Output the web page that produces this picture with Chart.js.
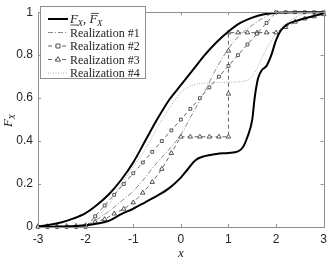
<!DOCTYPE html>
<html><head><meta charset="utf-8">
<script src="https://cdn.jsdelivr.net/npm/chart.js@4/dist/chart.umd.min.js"></script>
<style>html,body{margin:0;padding:0;background:#fff;overflow:hidden}#wrap{width:332px;height:261px;position:relative}</style>
</head><body><div id="wrap"><canvas id="c" width="332" height="261"></canvas></div>
<script>
// ---- data ----
const xTicks = [-3, -2, -1, 0, 1, 2, 3];
const yTicks = [0, 0.2, 0.4, 0.6, 0.8, 1];
const legendLabels = ['F_X, F̄_X', 'Realization #1', 'Realization #2', 'Realization #3', 'Realization #4'];

const upperX = [-3, -2.75, -2.5, -2.25, -2, -1.75, -1.5, -1.25, -1, -0.75, -0.5, -0.25, 0, 0.25, 0.5, 0.75, 1, 1.25, 1.5, 1.75, 2, 2.5, 3];
const upperF = [0.002, 0.01, 0.022, 0.04, 0.065, 0.105, 0.155, 0.22, 0.30, 0.40, 0.50, 0.59, 0.66, 0.73, 0.80, 0.86, 0.91, 0.95, 0.975, 0.99, 0.997, 1, 1];

const lowerX = [-3, -2.5, -2, -1.75, -1.5, -1.25, -1, -0.75, -0.5, -0.25, 0, 0.15, 0.3, 0.5, 0.75, 1, 1.2, 1.3, 1.4, 1.5, 1.55, 1.62, 1.7, 1.8, 1.9, 2, 2.1, 2.25, 2.5, 2.75, 3];
const lowerF = [0, 0.002, 0.008, 0.016, 0.03, 0.06, 0.085, 0.115, 0.145, 0.18, 0.23, 0.27, 0.31, 0.33, 0.34, 0.345, 0.352, 0.37, 0.42, 0.5, 0.6, 0.69, 0.73, 0.75, 0.80, 0.87, 0.915, 0.945, 0.965, 0.98, 0.995];

const r1X = [-3, -2, -1.8, -1.5, -1.25, -1, -0.75, -0.5, -0.25, 0, 0.25, 0.5, 0.75, 1, 1.25, 1.5, 1.75, 2, 3];
const r1F = [0, 0.005, 0.03, 0.075, 0.12, 0.167, 0.23, 0.30, 0.36, 0.43, 0.53, 0.63, 0.74, 0.83, 0.895, 0.94, 0.975, 1, 1];

const r2X = [-3, -2.8, -2.6, -2.4, -2.2, -2, -1.8, -1.6, -1.4, -1.2, -1, -0.8, -0.6, -0.4, -0.2, 0, 0.2, 0.4, 0.6, 0.8, 1, 1.2, 1.4, 1.6, 1.8, 2, 2.2, 2.4, 2.6, 2.8, 3];
const r2F = [0, 0, 0, 0, 0, 0, 0.05, 0.10, 0.15, 0.20, 0.25, 0.30, 0.35, 0.40, 0.45, 0.50, 0.55, 0.60, 0.65, 0.70, 0.75, 0.80, 0.85, 0.90, 0.95, 1, 1, 1, 1, 1, 1];

const r3X = [-3, -2.8, -2.6, -2.4, -2.2, -2, -1.8, -1.6, -1.4, -1.2, -1, -0.8, -0.6, -0.4, -0.2, 0, 0.2, 0.4, 0.6, 0.8, 1, 1, 1, 1, 1.2, 1.4, 1.6, 1.8, 2, 2.2, 2.4, 2.6, 2.8, 3];
const r3F = [0.003, 0.003, 0.003, 0.004, 0.005, 0.008, 0.024, 0.036, 0.062, 0.084, 0.114, 0.159, 0.209, 0.27, 0.344, 0.42, 0.42, 0.42, 0.42, 0.42, 0.42, 0.62, 0.82, 0.905, 0.905, 0.905, 0.905, 0.905, 0.905, 0.93, 0.955, 0.97, 0.98, 0.99];

const r4X = [-3, -2, -1.8, -1.5, -1.25, -1, -0.75, -0.5, -0.25, 0, 0.25, 0.5, 0.75, 1, 1.25, 1.45, 1.6, 1.8, 2, 2.2, 2.4, 2.6, 2.8, 3];
const r4F = [0, 0.01, 0.04, 0.11, 0.2, 0.28, 0.36, 0.46, 0.55, 0.625, 0.66, 0.67, 0.672, 0.674, 0.677, 0.69, 0.74, 0.83, 0.9, 0.945, 0.975, 0.993, 1, 1];

const pts = (xs, ys) => xs.map((x, i) => ({x: x, y: ys[i]}));

// ---- drawing helpers ----
const SERIF = "'Liberation Serif', 'Times New Roman', 'DejaVu Serif', serif";
function drawFX(ctx, x, y, bar, size) {
  ctx.font = 'italic ' + size + 'px ' + SERIF;
  ctx.fillText('F', x, y);
  const w = ctx.measureText('F').width;
  ctx.beginPath();
  ctx.lineWidth = 0.8;
  if (bar === 'under') { ctx.moveTo(x + 0.5, y + 2); ctx.lineTo(x + w + 0.5, y + 2); }
  if (bar === 'over') { ctx.moveTo(x + 1.5, y - size * 0.74); ctx.lineTo(x + w + 1.5, y - size * 0.74); }
  ctx.stroke();
  ctx.font = 'italic ' + Math.round(size * 0.72) + 'px ' + SERIF;
  ctx.fillText('X', x + w - 0.5, y + 3);
  return x + w - 0.5 + ctx.measureText('X').width;
}

const decor = {
  id: 'decor',
  afterDraw(chart) {
    const ctx = chart.ctx, a = chart.chartArea;
    const xs = chart.scales.x, ys = chart.scales.y;
    ctx.save();
    // box
    ctx.strokeStyle = '#8f8f8f';
    ctx.lineWidth = 1;
    ctx.strokeRect(Math.round(a.left) + 0.5, Math.round(a.top) + 0.5, Math.round(a.right - a.left), Math.round(a.bottom - a.top));
    // inner ticks
    ctx.beginPath();
    xTicks.forEach(v => {
      const px = Math.round(xs.getPixelForValue(v)) + 0.5;
      ctx.moveTo(px, a.bottom); ctx.lineTo(px, a.bottom - 3);
      ctx.moveTo(px, a.top); ctx.lineTo(px, a.top + 3);
    });
    yTicks.forEach(v => {
      const py = Math.round(ys.getPixelForValue(v)) + 0.5;
      ctx.moveTo(a.left, py); ctx.lineTo(a.left + 3, py);
      ctx.moveTo(a.right, py); ctx.lineTo(a.right - 3, py);
    });
    ctx.stroke();

    // legend
    const lx = 40.5, ly = 6.5, lw = 105, lh = 72;
    ctx.fillStyle = '#fff';
    ctx.fillRect(lx, ly, lw, lh);
    ctx.strokeStyle = '#8f8f8f';
    ctx.strokeRect(lx, ly, lw, lh);
    const ds = chart.data.datasets;
    const order = [0, 2, 3, 4, 5];
    order.forEach((di, i) => {
      const d = ds[di];
      const ry = 19 + i * 13.5;
      ctx.save();
      ctx.strokeStyle = d.borderColor;
      ctx.lineWidth = d.borderWidth;
      ctx.setLineDash(d.borderDash || []);
      ctx.beginPath(); ctx.moveTo(48, ry); ctx.lineTo(68, ry); ctx.stroke();
      ctx.setLineDash([]);
      if (d.pointRadius > 0) {
        ctx.fillStyle = '#fff'; ctx.strokeStyle = d.pointBorderColor; ctx.lineWidth = d.pointBorderWidth;
        ctx.beginPath();
        if (d.pointStyle === 'rect') { ctx.rect(58 - 2, ry - 2, 4, 4); }
        else { ctx.moveTo(58, ry - 2.8); ctx.lineTo(60.6, ry + 1.6); ctx.lineTo(55.4, ry + 1.6); ctx.closePath(); }
        ctx.fill(); ctx.stroke();
      }
      ctx.restore();
      ctx.fillStyle = '#222'; ctx.strokeStyle = '#222';
      ctx.textBaseline = 'alphabetic'; ctx.textAlign = 'left';
      if (i === 0) {
        let x = drawFX(ctx, 70, ry + 4, 'under', 13);
        ctx.font = '13px ' + SERIF;
        ctx.fillText(',', x, ry + 4);
        x += ctx.measureText(', ').width;
        drawFX(ctx, x, ry + 4, 'over', 13);
      } else {
        ctx.font = '12px ' + SERIF;
        ctx.fillText(legendLabels[i], 70, ry + 4);
      }
    });

    // axis titles
    ctx.fillStyle = '#222'; ctx.strokeStyle = '#222';
    ctx.font = 'italic 13px ' + SERIF;
    ctx.textAlign = 'center';
    ctx.fillText('x', (a.left + a.right) / 2, 257);
    ctx.save();
    ctx.translate(12, 120);
    ctx.rotate(-Math.PI / 2);
    ctx.textAlign = 'left';
    drawFX(ctx, -7, 0, null, 13);
    ctx.restore();
    ctx.restore();
  }
};

const grey1 = '#7a7a7a', grey2 = '#555555', grey4 = '#a0a0a0';
new Chart(document.getElementById('c'), {
  type: 'scatter',
  data: {
    datasets: [
      {label: 'lower', data: pts(lowerX, lowerF), showLine: true, borderColor: '#000', borderWidth: 2, pointRadius: 0, cubicInterpolationMode: 'monotone', clip: false},
      {label: 'upper', data: pts(upperX, upperF), showLine: true, borderColor: '#000', borderWidth: 2, pointRadius: 0, cubicInterpolationMode: 'monotone', clip: false},
      {label: legendLabels[1], data: pts(r1X, r1F), showLine: true, borderColor: grey1, borderWidth: 0.9, borderDash: [5, 2, 1, 2], pointRadius: 0, cubicInterpolationMode: 'monotone'},
      {label: legendLabels[2], data: pts(r2X, r2F), showLine: true, borderColor: grey2, borderWidth: 0.9, borderDash: [4, 3], pointRadius: 2, pointStyle: 'rect', pointBackgroundColor: '#fff', pointBorderColor: '#444', pointBorderWidth: 0.9, tension: 0, clip: false},
      {label: legendLabels[3], data: pts(r3X, r3F), showLine: true, borderColor: grey2, borderWidth: 0.9, borderDash: [4, 3], pointRadius: 2.6, pointStyle: 'triangle', pointBackgroundColor: '#fff', pointBorderColor: '#444', pointBorderWidth: 0.9, tension: 0, clip: false},
      {label: legendLabels[4], data: pts(r4X, r4F), showLine: true, borderColor: grey4, borderWidth: 0.9, borderDash: [1, 1.5], pointRadius: 0, cubicInterpolationMode: 'monotone'}
    ]
  },
  options: {
    responsive: false, animation: false, devicePixelRatio: 1,
    layout: {padding: {top: 5, right: 4, left: 0, bottom: 0}},
    plugins: {legend: {display: false}, tooltip: {enabled: false}},
    scales: {
      x: {
        type: 'linear', min: -3, max: 3,
        grid: {display: false, drawTicks: false}, border: {display: false},
        afterFit: s => { s.height = 34; },
        afterBuildTicks: s => { s.ticks = xTicks.map(v => ({value: v})); },
        ticks: {padding: 5, color: '#262626', font: {family: '"Liberation Sans", Arial, sans-serif', size: 12}, callback: v => String(v)}
      },
      y: {
        type: 'linear', min: 0, max: 1,
        grid: {display: false, drawTicks: false}, border: {display: false},
        afterFit: s => { s.width = 38; },
        afterBuildTicks: s => { s.ticks = yTicks.map(v => ({value: v})); },
        ticks: {padding: 5, color: '#262626', font: {family: '"Liberation Sans", Arial, sans-serif', size: 12}, callback: v => String(Math.round(v * 10) / 10)}
      }
    }
  },
  plugins: [decor]
});
</script></body></html>
